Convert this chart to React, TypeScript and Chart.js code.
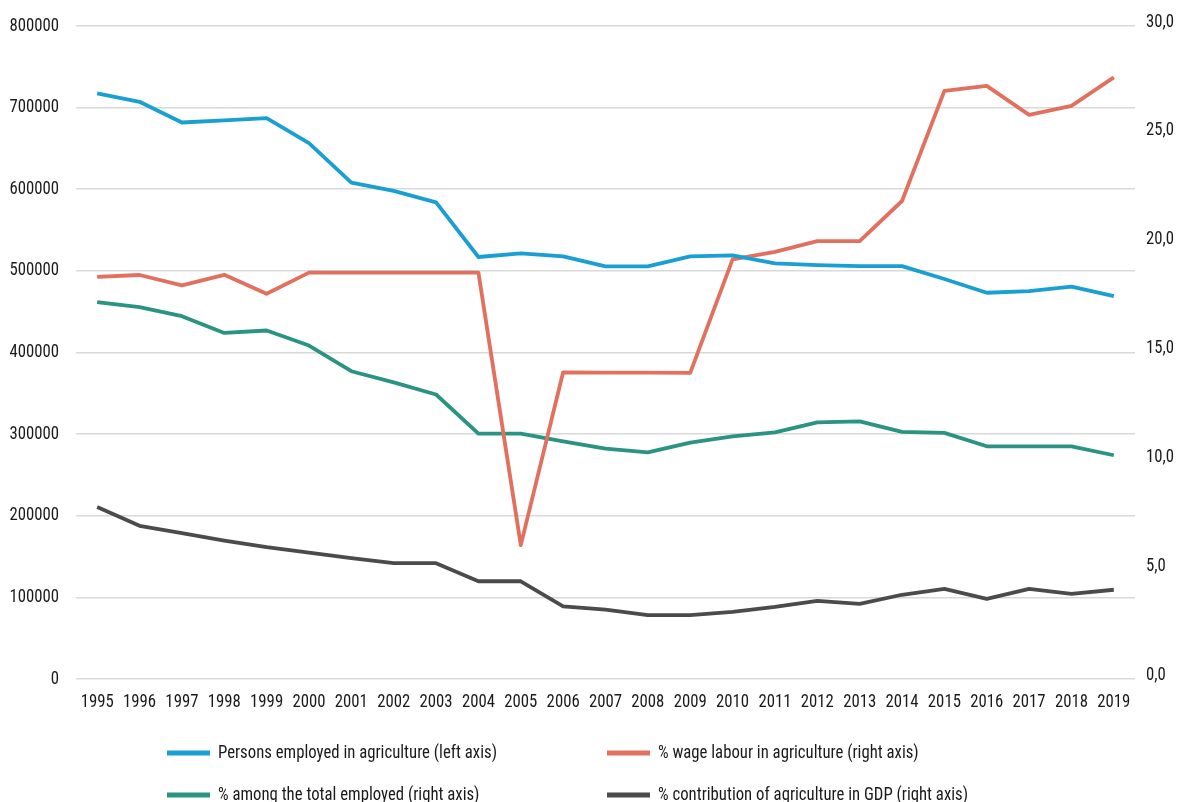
import React, { useEffect, useRef } from "react";
import { Chart, registerables } from "chart.js";

Chart.register(...registerables);

const YEARS = [
  "1995", "1996", "1997", "1998", "1999", "2000", "2001", "2002", "2003", "2004",
  "2005", "2006", "2007", "2008", "2009", "2010", "2011", "2012", "2013", "2014",
  "2015", "2016", "2017", "2018", "2019",
];

const PERSONS_EMPLOYED = [
  717400, 707100, 681800, 684300, 687100, 656400, 608200, 598000, 584000, 517000,
  521500, 517800, 505500, 505500, 517800, 519000, 509200, 507100, 505900, 505900,
  490000, 473200, 475200, 480600, 469100,
];

const WAGE_LABOUR = [
  18.47, 18.56, 18.08, 18.57, 17.7, 18.67, 18.67, 18.67, 18.67, 18.67,
  6.15, 14.09, 14.08, 14.08, 14.06, 19.28, 19.62, 20.12, 20.12, 21.96,
  27.02, 27.25, 25.92, 26.33, 27.64,
];

const SHARE_EMPLOYED = [
  17.31, 17.08, 16.67, 15.9, 16.01, 15.32, 14.14, 13.63, 13.07, 11.27,
  11.27, 10.92, 10.58, 10.41, 10.86, 11.15, 11.33, 11.79, 11.84, 11.35,
  11.31, 10.69, 10.69, 10.69, 10.28,
];

const GDP_SHARE = [
  7.9, 7.04, 6.7, 6.36, 6.06, 5.81, 5.55, 5.32, 5.32, 4.49,
  4.49, 3.34, 3.19, 2.93, 2.93, 3.08, 3.31, 3.59, 3.45, 3.87,
  4.14, 3.68, 4.14, 3.91, 4.1,
];

const SERIES_LABELS = [
  "Persons employed in agriculture (left axis)",
  "% wage labour in agriculture (right axis)",
  "% among the total employed (right axis)",
  "% contribution of agriculture in GDP (right axis)",
];

const LEFT_TICKS = { min: 0, max: 800000, step: 100000 };
const RIGHT_TICKS = { min: 0, max: 30, step: 5 };

const COLORS = ["#1A9FD2", "#E2705E", "#2A9382", "#4B4B4B"];

function pickFont(): { family: string; size: number; sx: number } {
  const c = document.createElement("canvas");
  const ctx = c.getContext("2d")!;
  const sample = SERIES_LABELS[0];
  const candidates = ["Roboto Condensed", "Roboto"];
  ctx.font = "18px monospace";
  const mono = ctx.measureText(sample).width;
  ctx.font = "18px serif";
  const ser = ctx.measureText(sample).width;
  for (const fam of candidates) {
    ctx.font = `18px '${fam}', monospace`;
    const a = ctx.measureText(sample).width;
    ctx.font = `18px '${fam}', serif`;
    const b = ctx.measureText(sample).width;
    if (a !== mono || b !== ser) {
      const sx = Math.min(1, 279 / a);
      return { family: `'${fam}', Roboto, sans-serif`, size: 18, sx };
    }
  }
  return { family: "Roboto, sans-serif", size: 18, sx: 0.86 };
}

export default function App() {
  const canvasRef = useRef<HTMLCanvasElement | null>(null);

  useEffect(() => {
    document.body.style.margin = "0";
    const canvas = canvasRef.current;
    if (!canvas) return;
    const font = pickFont();
    const textColor = "#1A1A1A";

    const drawText = (
      ctx: CanvasRenderingContext2D,
      text: string,
      x: number,
      y: number,
      align: CanvasTextAlign
    ) => {
      ctx.save();
      ctx.translate(x, y);
      ctx.scale(font.sx, 1);
      ctx.textAlign = align;
      ctx.fillText(text, 0, 0);
      ctx.restore();
    };

    const textPlugin = {
      id: "condensedText",
      afterDraw(chart: any) {
        const ctx = chart.ctx as CanvasRenderingContext2D;
        const area = chart.chartArea;
        ctx.save();
        ctx.font = `${font.size}px ${font.family}`;
        ctx.textBaseline = "middle";
        ctx.fillStyle = textColor;

        // left axis labels
        const yl = chart.scales.yLeft;
        yl.ticks.forEach((t: any) => {
          drawText(ctx, String(t.value), area.left - 17, yl.getPixelForValue(t.value), "right");
        });

        // right axis labels
        const yr = chart.scales.yRight;
        yr.ticks.forEach((t: any) => {
          drawText(
            ctx,
            Number(t.value).toFixed(1).replace(".", ","),
            area.right + 11,
            yr.getPixelForValue(t.value) - 4,
            "left"
          );
        });

        // category labels
        const xs = chart.scales.x;
        YEARS.forEach((year, i) => {
          drawText(ctx, year, xs.getPixelForTick(i), area.bottom + 23, "center");
        });

        // legend
        const cols = [167, 607];
        const rows = [753, 795];
        SERIES_LABELS.forEach((label, i) => {
          const x = cols[i % 2];
          const y = rows[Math.floor(i / 2)];
          ctx.strokeStyle = COLORS[i];
          ctx.lineWidth = 5;
          ctx.beginPath();
          ctx.moveTo(x, y);
          ctx.lineTo(x + 43, y);
          ctx.stroke();
          ctx.fillStyle = textColor;
          drawText(ctx, label, x + 51, y, "left");
        });
        ctx.restore();
      },
    };

    const series = [PERSONS_EMPLOYED, WAGE_LABOUR, SHARE_EMPLOYED, GDP_SHARE];
    const axes = ["yLeft", "yRight", "yRight", "yRight"];

    const chart = new Chart(canvas, {
      type: "line",
      data: {
        labels: YEARS,
        datasets: series.map((data, i) => ({
          label: SERIES_LABELS[i],
          data,
          yAxisID: axes[i],
          borderColor: COLORS[i],
          backgroundColor: COLORS[i],
          borderWidth: 3.8,
          pointRadius: 0,
          pointHoverRadius: 0,
          tension: 0,
          borderJoinStyle: "round" as const,
          fill: false,
        })),
      },
      options: {
        animation: false,
        responsive: false,
        maintainAspectRatio: false,
        layout: { padding: { top: 26, bottom: 83, left: 0, right: 0 } },
        plugins: {
          legend: { display: false },
          tooltip: { enabled: false },
        },
        scales: {
          x: {
            type: "category",
            offset: true,
            grid: { display: false },
            border: { display: false },
            ticks: { display: false, autoSkip: false },
            afterFit(scale: any) {
              scale.height = 40;
            },
          },
          yLeft: {
            type: "linear",
            position: "left",
            min: LEFT_TICKS.min,
            max: LEFT_TICKS.max,
            grid: {
              color: "#D9D9D9",
              lineWidth: 1.6,
              drawTicks: false,
            },
            border: { display: false },
            ticks: { display: false, stepSize: LEFT_TICKS.step },
            afterFit(scale: any) {
              scale.width = 76;
            },
          },
          yRight: {
            type: "linear",
            position: "right",
            min: RIGHT_TICKS.min,
            max: RIGHT_TICKS.max,
            grid: { display: false, drawTicks: false },
            border: { display: false },
            ticks: { display: false, stepSize: RIGHT_TICKS.step },
            afterFit(scale: any) {
              scale.width = 43;
            },
          },
        },
      },
      plugins: [textPlugin],
    });

    return () => chart.destroy();
  }, []);

  return (
    <div style={{ width: 1178, height: 802, position: "relative", background: "#fff" }}>
      <canvas ref={canvasRef} width={1178} height={802} />
    </div>
  );
}
